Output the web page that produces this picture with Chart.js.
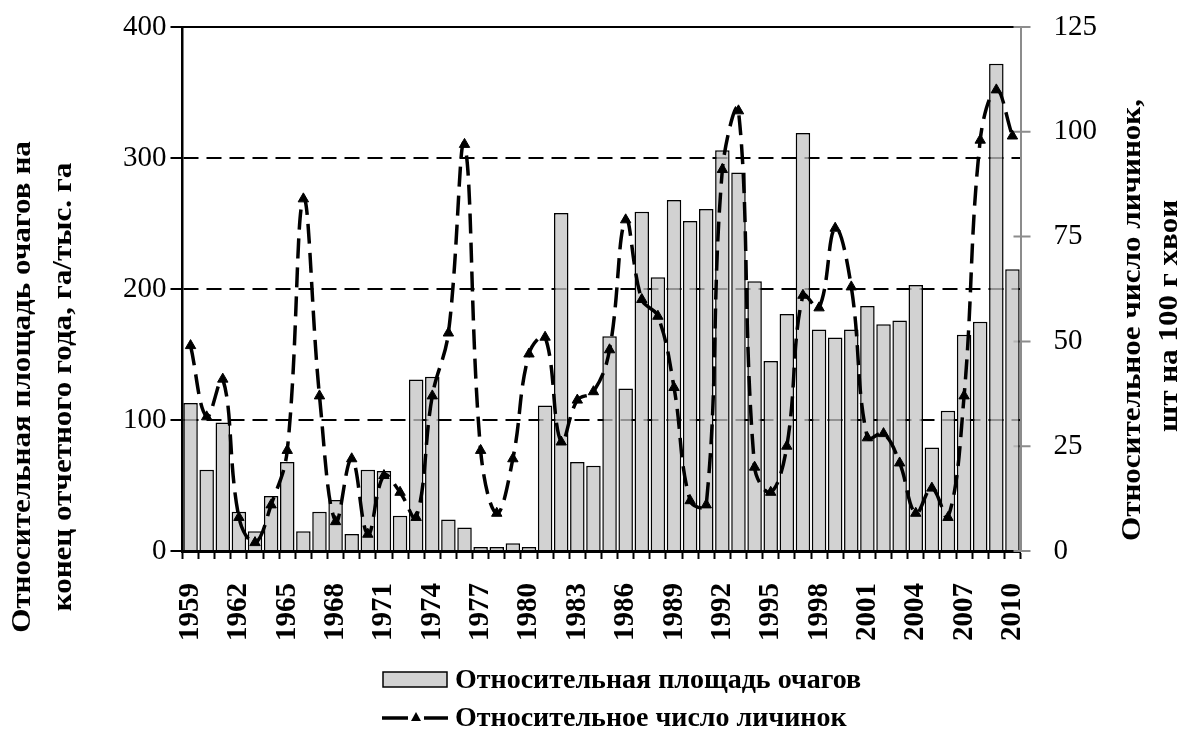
<!DOCTYPE html>
<html>
<head>
<meta charset="utf-8">
<script src="https://cdn.jsdelivr.net/npm/chart.js@4.4.0/dist/chart.umd.min.js"></script>
<style>
  html, body { margin: 0; padding: 0; background: #fff; }
  #wrap { width: 1182px; height: 731px; }
</style>
</head>
<body>
<div id="wrap"><canvas id="myChart"></canvas></div>
<script>
const years = ['1959', '1960', '1961', '1962', '1963', '1964', '1965', '1966', '1967', '1968',
    '1969', '1970', '1971', '1972', '1973', '1974', '1975', '1976', '1977', '1978',
    '1979', '1980', '1981', '1982', '1983', '1984', '1985', '1986', '1987', '1988',
    '1989', '1990', '1991', '1992', '1993', '1994', '1995', '1996', '1997', '1998',
    '1999', '2000', '2001', '2002', '2003', '2004', '2005', '2006', '2007', '2008',
    '2009', '2010'];

// относительная площадь очагов, га/тыс. га
const area = [113, 62, 98, 30, 15, 42, 68, 15, 30, 39,
    13, 62, 61, 27, 131, 133, 24, 18, 3, 3,
    6, 3, 111, 258, 68, 65, 164, 124, 259, 209,
    268, 252, 261, 306, 289, 206, 145, 181, 319, 169,
    163, 169, 187, 173, 176, 203, 79, 107, 165, 175,
    372, 215];

// относительное число личинок, шт на 100 г хвои
const larvae = [49, 32, 41, 8, 2, 11, 24, 84, 37, 7,
    22, 4, 18, 14, 8, 37, 52, 97, 24, 9,
    22, 47, 51, 26, 36, 38, 48, 79, 60, 56,
    39, 12, 11, 91, 105, 20, 14, 25, 61, 58,
    77, 63, 27, 28, 21, 9, 15, 8, 37, 98,
    110, 99];

const leftTicks = [0, 100, 200, 300, 400];
const rightTicks = [0, 25, 50, 75, 100, 125];

const leftTitle = ['Относительная площадь очагов на', 'конец отчетного года, га/тыс. га'];
const rightTitle = ['Относительное число личинок,', 'шт на 100 г хвои'];
const legendNames = ['Относительная площадь очагов', 'Относительное число личинок'];

const serif = '"Liberation Serif", "Times New Roman", serif';

function vText(ctx, text, x, y, stretch) {
    ctx.save();
    ctx.translate(x, y);
    ctx.rotate(-Math.PI / 2);
    ctx.scale(stretch, 1);
    ctx.fillText(text, 0, 0);
    ctx.restore();
}

const decor = {
    id: 'decor',
    beforeDatasetsDraw(chart) {
        const {ctx, chartArea: a} = chart;
        ctx.save();
        ctx.strokeStyle = '#000';
        ctx.lineWidth = 2;
        ctx.beginPath();
        ctx.moveTo(a.left, a.top);
        ctx.lineTo(a.right - 6, a.top);
        ctx.stroke();
        // right axis ticks cross the axis line
        const y1 = chart.scales.y1;
        ctx.strokeStyle = '#8c8c8c';
        ctx.beginPath();
        rightTicks.forEach(v => {
            const py = y1.getPixelForValue(v);
            ctx.moveTo(a.right - 7, py);
            ctx.lineTo(a.right + 10, py);
        });
        ctx.stroke();
        ctx.restore();
    },
    afterDraw(chart) {
        const ctx = chart.ctx;
        ctx.save();
        ctx.fillStyle = '#000';
        ctx.font = 'bold 27px ' + serif;
        ctx.textAlign = 'center';
        ctx.textBaseline = 'middle';
        // axis titles, both read bottom to top
        vText(ctx, leftTitle[0], 23, 387, 1.15);
        vText(ctx, leftTitle[1], 64, 387, 1.15);
        vText(ctx, rightTitle[0], 1133, 320, 1.15);
        vText(ctx, rightTitle[1], 1170, 316, 1.15);

        // legend
        ctx.fillStyle = 'rgba(195,195,195,0.75)';
        ctx.fillRect(383, 672, 64, 15);
        ctx.strokeStyle = '#000';
        ctx.lineWidth = 1.5;
        ctx.strokeRect(383, 672, 64, 15);

        ctx.lineWidth = 3.5;
        ctx.beginPath();
        ctx.moveTo(382, 718);
        ctx.lineTo(408, 718);
        ctx.moveTo(424, 718);
        ctx.lineTo(448, 718);
        ctx.stroke();
        ctx.fillStyle = '#000';
        ctx.beginPath();
        ctx.moveTo(416, 712);
        ctx.lineTo(421, 721);
        ctx.lineTo(411, 721);
        ctx.closePath();
        ctx.fill();

        ctx.font = 'bold 28px ' + serif;
        ctx.textAlign = 'left';
        ctx.fillText(legendNames[0], 455, 681);
        ctx.fillText(legendNames[1], 455, 719);
        ctx.restore();
    }
};

const ctx = document.getElementById('myChart');

new Chart(ctx, {
    type: 'bar',
    data: {
        labels: years,
        datasets: [
            {
                type: 'line',
                label: legendNames[1],
                data: larvae,
                yAxisID: 'y1',
                borderColor: '#000',
                borderWidth: 3.5,
                borderDash: [20, 9],
                tension: 0.4,
                pointStyle: 'triangle',
                pointRadius: 6,
                pointBackgroundColor: '#000',
                pointBorderColor: '#000',
                pointBorderWidth: 1,
                order: 0
            },
            {
                label: legendNames[0],
                data: area,
                yAxisID: 'y',
                backgroundColor: 'rgba(195,195,195,0.75)',
                borderColor: '#000',
                borderWidth: 1.5,
                categoryPercentage: 1.0,
                barPercentage: 0.9,
                order: 1
            }
        ]
    },
    options: {
        responsive: true,
        maintainAspectRatio: false,
        animation: false,
        layout: {
            padding: {left: 119, right: 85, top: 27, bottom: 66}
        },
        plugins: {
            legend: {display: false},
            tooltip: {enabled: false}
        },
        scales: {
            x: {
                grid: {
                    drawOnChartArea: false,
                    drawTicks: true,
                    tickLength: 8,
                    tickColor: '#000',
                    tickWidth: 2
                },
                border: {color: '#000', width: 3},
                ticks: {
                    autoSkip: false,
                    maxRotation: 90,
                    minRotation: 90,
                    padding: 24,
                    color: '#000',
                    font: {family: serif, size: 29, weight: 'bold'},
                    callback: function (value, index) {
                        return index % 3 === 0 ? years[index] : '';
                    }
                }
            },
            y: {
                position: 'left',
                min: 0,
                max: 400,
                afterBuildTicks: function (axis) {
                    axis.ticks = leftTicks.map(v => ({value: v}));
                },
                grid: {
                    color: function (c) {
                        const v = c.tick ? c.tick.value : 0;
                        return (v === 0 || v === 400) ? 'rgba(0,0,0,0)' : '#000';
                    },
                    lineWidth: 2,
                    tickColor: '#000',
                    tickLength: 12,
                    tickWidth: 2
                },
                border: {color: '#000', width: 2.5, dash: [15, 8]},
                ticks: {
                    padding: 4,
                    color: '#000',
                    font: {family: serif, size: 29}
                }
            },
            y1: {
                position: 'right',
                min: 0,
                max: 125,
                afterBuildTicks: function (axis) {
                    axis.ticks = rightTicks.map(v => ({value: v}));
                },
                grid: {
                    drawOnChartArea: false,
                    tickColor: 'rgba(0,0,0,0)',
                    tickLength: 33
                },
                border: {color: '#8c8c8c', width: 2},
                ticks: {
                    padding: 0,
                    color: '#000',
                    font: {family: serif, size: 29}
                }
            }
        }
    },
    plugins: [decor]
});
</script>
</body>
</html>
